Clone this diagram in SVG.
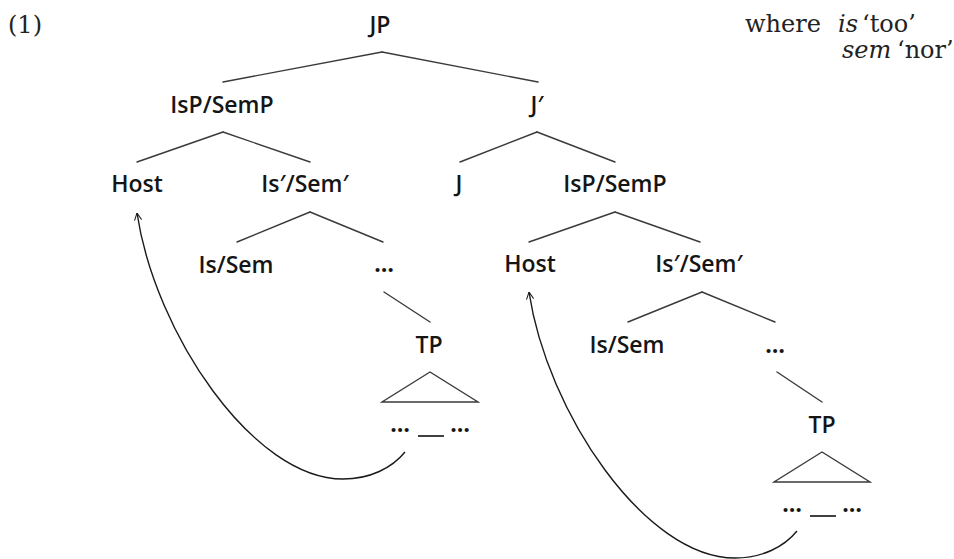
<svg xmlns="http://www.w3.org/2000/svg" width="954" height="559" viewBox="0 0 954 559">
<style>
  .lbl { font-family: "Open Sans", "Noto Sans", "DejaVu Sans", sans-serif; font-size: 23px; font-weight: 600; fill: #151515; text-anchor: middle; }
  .dots { font-weight: 700; }
  .ser { font-family: "DejaVu Serif", "Liberation Serif", serif; font-size: 24px; fill: #222; }
  .it { font-style: italic; }
  .edge { stroke: #3a3a3a; stroke-width: 1.4; fill: none; stroke-linecap: round; }
  .move { stroke: #1a1a1a; stroke-width: 1.4; fill: none; marker-start: url(#arr); }
  .tri { stroke: #3a3a3a; stroke-width: 1.4; fill: none; stroke-linejoin: miter; }
  .gap { stroke: #111; stroke-width: 1.6; }
</style>
<defs>
  <marker id="arr" viewBox="0 0 10 10" refX="10" refY="5" markerWidth="8" markerHeight="8" markerUnits="userSpaceOnUse" orient="auto-start-reverse">
    <path d="M1,0.5 L10,5 L1,9.5" fill="none" stroke="#1a1a1a" stroke-width="1.3"/>
  </marker>
</defs>
<rect width="954" height="559" fill="#fff"/>

<g id="example-number"><text class="ser" x="8" y="33" font-size="25">(1)</text></g>
<g id="gloss">
  <text class="ser" x="745" y="32">where</text>
  <text class="ser it" x="838" y="32">is</text>
  <text class="ser" x="862" y="32">‘too’</text>
  <text class="ser it" x="842" y="58">sem</text>
  <text class="ser" x="897" y="58">‘nor’</text>
</g>

<g id="connectors">
  <line class="edge" x1="382" y1="52" x2="223" y2="82"/>
  <line class="edge" x1="382" y1="52" x2="538" y2="82"/>
  <line class="edge" x1="223" y1="132" x2="137" y2="162"/>
  <line class="edge" x1="223" y1="132" x2="310" y2="162"/>
  <line class="edge" x1="537" y1="132" x2="460" y2="162"/>
  <line class="edge" x1="537" y1="132" x2="615" y2="162"/>
  <line class="edge" x1="310" y1="212" x2="237" y2="242"/>
  <line class="edge" x1="310" y1="212" x2="383" y2="242"/>
  <line class="edge" x1="615" y1="212" x2="529" y2="242"/>
  <line class="edge" x1="615" y1="212" x2="700" y2="242"/>
  <line class="edge" x1="384" y1="292" x2="430" y2="322"/>
  <line class="edge" x1="702" y1="292" x2="628" y2="322"/>
  <line class="edge" x1="702" y1="292" x2="775" y2="322"/>
  <line class="edge" x1="777" y1="372" x2="822" y2="402"/>
  <path class="tri" d="M430,372 L382,402 L478,402 Z"/>
  <path class="tri" d="M822,452 L774,482 L870,482 Z"/>
  <path class="move" d="M137,213 C155,333 253,479 343,479 C370,479 392,468 405,452"/>
  <path class="move" d="M529,292 C547,412 645,558 735,558 C762,558 784,547 797,531"/>
</g>

<g id="n-JP"><text class="lbl" x="380" y="33">JP</text></g>
<g id="n-IsP-left"><text class="lbl" x="222" y="113">IsP/SemP</text></g>
<g id="n-Jbar"><text class="lbl" x="537" y="113">J′</text></g>
<g id="n-Host-left"><text class="lbl" x="137" y="192">Host</text></g>
<g id="n-Isbar-left"><text class="lbl" x="305" y="192">Is′/Sem′</text></g>
<g id="n-J"><text class="lbl" x="459" y="192">J</text></g>
<g id="n-IsP-right"><text class="lbl" x="615" y="192">IsP/SemP</text></g>
<g id="n-Is-left"><text class="lbl" x="236" y="273">Is/Sem</text></g>
<g id="n-dots-left"><text class="lbl dots" x="384" y="272">…</text></g>
<g id="n-Host-right"><text class="lbl" x="530" y="272">Host</text></g>
<g id="n-Isbar-right"><text class="lbl" x="699" y="272">Is′/Sem′</text></g>
<g id="n-TP-left"><text class="lbl" x="429" y="353">TP</text></g>
<g id="n-Is-right"><text class="lbl" x="627" y="353">Is/Sem</text></g>
<g id="n-dots-right"><text class="lbl dots" x="775" y="353">…</text></g>
<g id="n-TP-right"><text class="lbl" x="822" y="433">TP</text></g>
<g id="n-string-left">
  <text class="lbl dots" x="400" y="432">…</text>
  <line class="gap" x1="418" y1="436" x2="444" y2="436"/>
  <text class="lbl dots" x="460" y="432">…</text>
</g>
<g id="n-string-right">
  <text class="lbl dots" x="792" y="512">…</text>
  <line class="gap" x1="810" y1="516" x2="836" y2="516"/>
  <text class="lbl dots" x="852" y="512">…</text>
</g>
</svg>
